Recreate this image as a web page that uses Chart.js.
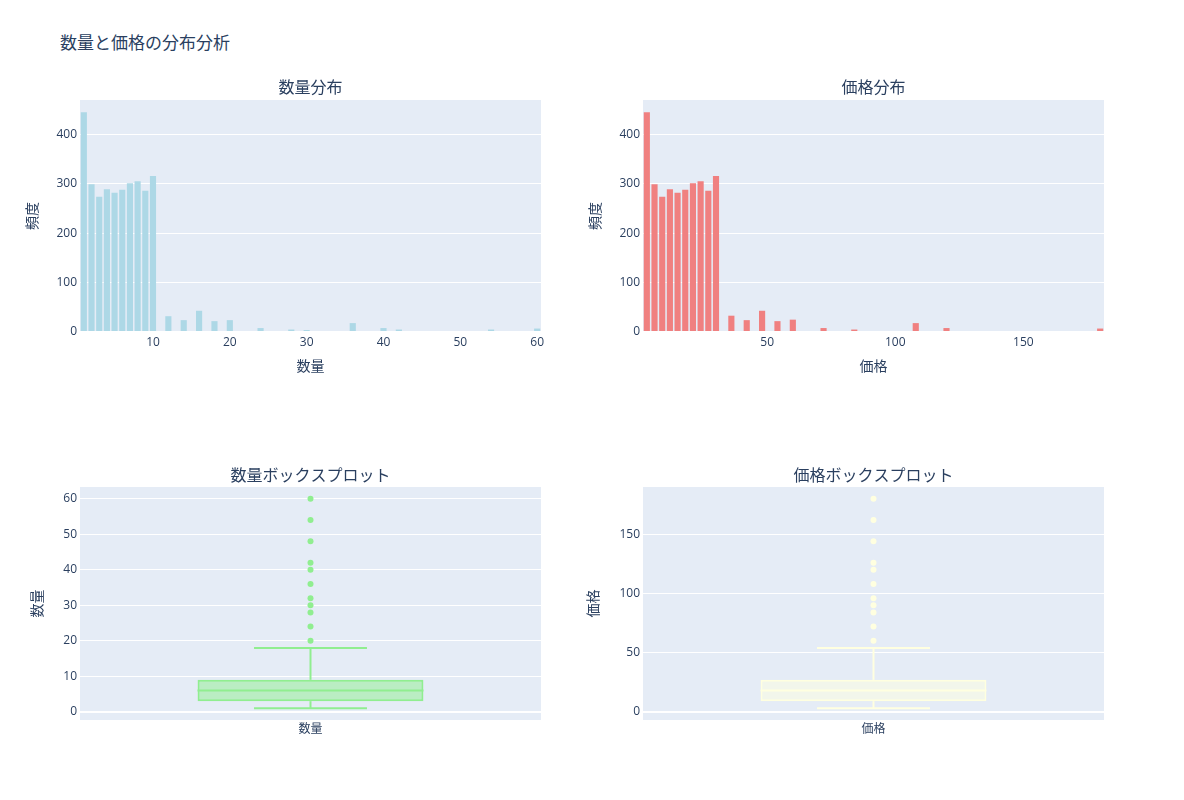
<!DOCTYPE html>
<html>
<head>
<meta charset="utf-8">
<script src="https://cdn.jsdelivr.net/npm/chart.js@4.4.1/dist/chart.umd.min.js"></script>
<style>
  html, body { margin: 0; padding: 0; background: #fff; }
  #wrap { position: relative; width: 1184px; height: 800px; overflow: hidden; }
  #mainTitle { position: absolute; left: 60px; top: 33px; font: 17px 'Open Sans', 'Noto Sans CJK JP', sans-serif; line-height: 20px; color: #2a3f5f; white-space: nowrap; }
  canvas { position: absolute; }
</style>
</head>
<body>
<div id="wrap">
  <div id="mainTitle">数量と価格の分布分析</div>
  <canvas id="c1" style="left:0px;top:70px;" width="560" height="312"></canvas>
  <canvas id="c2" style="left:560px;top:70px;" width="560" height="312"></canvas>
  <canvas id="c3" style="left:0px;top:450px;" width="560" height="300"></canvas>
  <canvas id="c4" style="left:560px;top:450px;" width="560" height="300"></canvas>
</div>
<script>
// ---- Data ----
const qtyBins = [1,2,3,4,5,6,7,8,9,10,12,14,16,18,20,24,28,30,32,36,40,42,48,54,60];
const qtyFreq = [445,299,274,289,282,288,301,305,286,316,32,24,43,22,24,8,5,4,2,18,8,5,2,5,7];
const priceBins = [3,6,9,12,15,18,21,24,27,30,36,42,48,54,60,72,84,108,120,180];
const priceFreq = [445,299,274,289,282,288,301,305,286,316,33,24,43,22,25,8,5,18,8,7];

// box stats: [lower whisker, q1, median, q3, upper whisker]
const qtyStats = [1,3,6,9,18];
const qtyOutliers = [20,24,28,30,32,36,40,42,48,54,60];
const priceStats = [3,9,18,27,54];
const priceOutliers = [60,72,84,90,96,108,120,126,144,162,180];

const qtyHistXTicks = [10,20,30,40,50,60];
const priceHistXTicks = [50,100,150];
const freqTicks = [0,100,200,300,400];
const qtyBoxYTicks = [0,10,20,30,40,50,60];
const priceBoxYTicks = [0,50,100,150];

const titles = ['数量分布','価格分布','数量ボックスプロット','価格ボックスプロット'];
const qtyLabel = '数量';
const priceLabel = '価格';
const freqLabel = '頻度';

// ---- Style ----
const FONT = "'Open Sans', 'Noto Sans CJK JP', sans-serif";
const TXT = '#2a3f5f';
Chart.defaults.font.family = FONT;
Chart.defaults.color = TXT;
Chart.defaults.animation = false;

const bgPlugin = {
  id: 'plotBg',
  beforeDraw(chart) {
    const {ctx, chartArea: a} = chart;
    ctx.save();
    ctx.fillStyle = '#E5ECF6';
    ctx.fillRect(a.left, a.top, a.right - a.left, a.bottom - a.top);
    ctx.restore();
  }
};

function fixedTicks(arr) {
  return function(scale) { scale.ticks = arr.map(v => ({value: v})); };
}

function yAxis(min, max, ticks, title, axisWidth, titlePad) {
  return {
    type: 'linear', min, max,
    afterBuildTicks: fixedTicks(ticks),
    afterFit(s) { s.width = axisWidth; },
    border: { display: false },
    grid: { color: '#ffffff', lineWidth: c => (c.tick && c.tick.value === 0 ? 2 : 1), drawTicks: false },
    ticks: { padding: 3, font: { size: 12 }, color: TXT },
    title: { display: true, text: title, font: { size: 14 }, color: TXT, padding: { top: titlePad, bottom: 0 } }
  };
}

function subTitle(text, pt, pb) {
  return { display: true, text, font: { size: 16, weight: 'normal' }, color: TXT, fullSize: false, padding: { top: pt, bottom: pb } };
}

function histChart(id, bins, freq, color, xmin, xmax, xticks, xTitle, axisWidth, ytitlePad, padRight, title) {
  new Chart(document.getElementById(id), {
    type: 'bar',
    data: { datasets: [{ data: bins.map((b, i) => ({x: b, y: freq[i]})), backgroundColor: color, borderWidth: 0, categoryPercentage: 1, barPercentage: 0.8 }] },
    options: {
      responsive: false, animation: false,
      layout: { padding: { left: 0, right: padRight, top: 0, bottom: 0 } },
      plugins: { legend: { display: false }, tooltip: { enabled: false }, title: subTitle(title, 8.4, 2.4) },
      scales: {
        x: {
          type: 'linear', min: xmin, max: xmax, offset: false,
          afterBuildTicks: fixedTicks(xticks),
          afterFit(s) { s.height = 50; },
          border: { display: false },
          grid: { display: false, offset: false, drawTicks: false },
          ticks: { padding: 3, font: { size: 12 }, color: TXT, maxRotation: 0 },
          title: { display: true, text: xTitle, font: { size: 14 }, color: TXT, padding: { top: 0, bottom: 7 } }
        },
        y: yAxis(0, 469.7, freqTicks, freqLabel, axisWidth, ytitlePad)
      }
    },
    plugins: [bgPlugin]
  });
}

const BOX_HALF = 0.245, CAP_HALF = 0.1225;

function boxChart(id, stats, outliers, lineColor, fillColor, ymin, ymax, yticks, label, axisWidth, ytitlePad, padRight, title) {
  const [lo, q1, med, q3, hi] = stats;
  const lineDs = pts => ({ type: 'line', data: pts, borderColor: lineColor, borderWidth: 2, pointRadius: 0, fill: false, tension: 0 });
  new Chart(document.getElementById(id), {
    type: 'bar',
    data: {
      datasets: [
        { type: 'line', data: outliers.map(v => ({x: 0, y: v})), showLine: false, pointRadius: 3, pointBackgroundColor: lineColor, pointBorderWidth: 0, borderColor: lineColor },
        lineDs([{x: -BOX_HALF, y: med}, {x: BOX_HALF, y: med}]),
        lineDs([{x: 0, y: q3}, {x: 0, y: hi}]),
        lineDs([{x: 0, y: lo}, {x: 0, y: q1}]),
        lineDs([{x: -CAP_HALF, y: hi}, {x: CAP_HALF, y: hi}]),
        lineDs([{x: -CAP_HALF, y: lo}, {x: CAP_HALF, y: lo}]),
        { type: 'bar', data: [{x: 0, y: [q1, q3]}], backgroundColor: fillColor, borderColor: lineColor, borderWidth: 2, borderSkipped: false, categoryPercentage: 1, barPercentage: 0.49 }
      ]
    },
    options: {
      responsive: false, animation: false,
      layout: { padding: { left: 0, right: padRight, top: 0, bottom: 0 } },
      plugins: { legend: { display: false }, tooltip: { enabled: false }, title: subTitle(title, 16.4, 1.4) },
      scales: {
        x: {
          type: 'linear', min: -0.5, max: 0.5, offset: false,
          afterBuildTicks(s) { s.ticks = [{value: 0}]; },
          afterFit(s) { s.height = 30; },
          border: { display: false },
          grid: { display: false, drawTicks: false },
          ticks: { padding: 2, font: { size: 12 }, color: TXT, callback: () => label }
        },
        y: yAxis(ymin, ymax, yticks, label, axisWidth, ytitlePad)
      }
    },
    plugins: [bgPlugin]
  });
}

histChart('c1', qtyBins, qtyFreq, '#ADD8E6', 0.5, 60.5, qtyHistXTicks, qtyLabel, 80, 24.6, 19, titles[0]);
histChart('c2', priceBins, priceFreq, '#F08080', 1.5, 181.5, priceHistXTicks, priceLabel, 83, 27.6, 16, titles[1]);
boxChart('c3', qtyStats, qtyOutliers, '#90EE90', 'rgba(144,238,144,0.5)', -2.3, 63.3, qtyBoxYTicks, qtyLabel, 80, 29.6, 19, titles[2]);
boxChart('c4', priceStats, priceOutliers, '#FFFFE0', 'rgba(255,255,224,0.5)', -6.9, 189.9, priceBoxYTicks, priceLabel, 83, 25.6, 16, titles[3]);
</script>
</body>
</html>
